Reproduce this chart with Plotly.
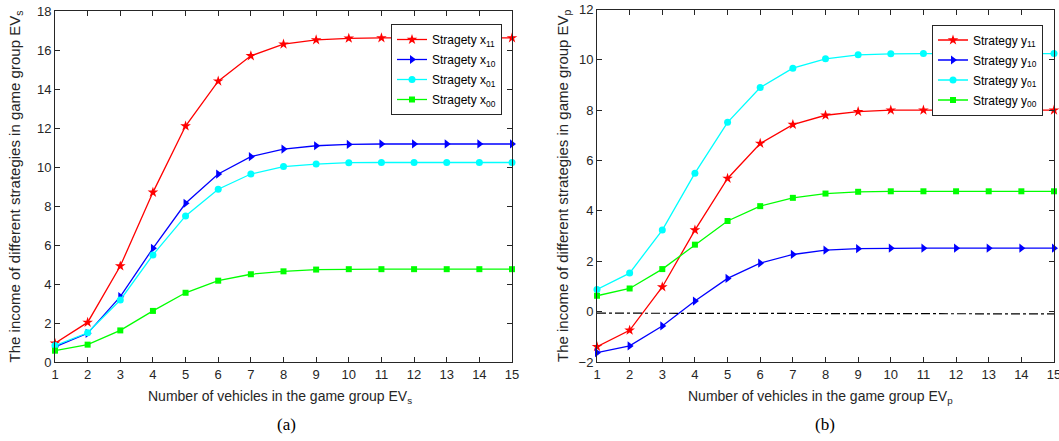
import plotly.graph_objects as go

vehicles = list(range(1, 16))

# Panel (a)
x11 = [0.96, 2.03, 4.92, 8.70, 12.10, 14.40, 15.70, 16.30, 16.52, 16.60, 16.62, 16.62, 16.62, 16.62, 16.62]
x10 = [0.78, 1.47, 3.35, 5.83, 8.14, 9.64, 10.53, 10.92, 11.09, 11.16, 11.18, 11.18, 11.18, 11.18, 11.18]
x01 = [0.84, 1.50, 3.18, 5.49, 7.49, 8.86, 9.64, 10.02, 10.15, 10.22, 10.23, 10.23, 10.23, 10.23, 10.23]
x00 = [0.58, 0.89, 1.62, 2.62, 3.55, 4.17, 4.50, 4.65, 4.74, 4.76, 4.76, 4.76, 4.76, 4.76, 4.76]

# Panel (b)
y11 = [-1.39, -0.74, 0.98, 3.24, 5.29, 6.68, 7.43, 7.80, 7.94, 8.00, 8.00, 8.00, 8.00, 8.00, 8.00]
y10 = [-1.63, -1.36, -0.57, 0.42, 1.32, 1.93, 2.27, 2.44, 2.50, 2.52, 2.52, 2.52, 2.52, 2.52, 2.52]
y01 = [0.88, 1.53, 3.24, 5.50, 7.52, 8.90, 9.67, 10.04, 10.20, 10.24, 10.25, 10.25, 10.25, 10.25, 10.25]
y00 = [0.63, 0.92, 1.69, 2.66, 3.60, 4.19, 4.52, 4.69, 4.76, 4.78, 4.78, 4.78, 4.78, 4.78, 4.78]

ref_x = [1, 15]
ref_y = [-0.06, -0.09]

colors = ["#ff0000", "#0000ff", "#00ffff", "#00ff00"]
symbols = ["star", "triangle-right", "circle", "square"]
sizes = [8, 8, 7, 6]

FW, FH = 1059, 441


def px(x):
    return x / FW


def py(y):
    return 1 - y / FH


fig = go.Figure()

names_a = ["Stragety x<sub>11</sub>", "Stragety x<sub>10</sub>", "Stragety x<sub>01</sub>", "Stragety x<sub>00</sub>"]
names_b = ["Strategy y<sub>11</sub>", "Strategy y<sub>10</sub>", "Strategy y<sub>01</sub>", "Strategy y<sub>00</sub>"]

for i, ys in enumerate([x11, x10, x01, x00]):
    fig.add_trace(go.Scatter(x=vehicles, y=ys, mode="lines+markers", name=names_a[i],
                             line=dict(color=colors[i], width=1.3),
                             marker=dict(symbol=symbols[i], size=sizes[i], color=colors[i]),
                             legendgroup="a%d" % i, cliponaxis=False,
                             xaxis="x", yaxis="y", legend="legend"))
for i, ys in enumerate([y11, y10, y01, y00]):
    fig.add_trace(go.Scatter(x=vehicles, y=ys, mode="lines+markers", name=names_b[i],
                             line=dict(color=colors[i], width=1.3),
                             marker=dict(symbol=symbols[i], size=sizes[i], color=colors[i]),
                             legendgroup="b%d" % i, cliponaxis=False,
                             xaxis="x2", yaxis="y2", legend="legend2"))
fig.add_trace(go.Scatter(x=ref_x, y=ref_y, mode="lines", showlegend=False,
                         line=dict(color="black", width=1.2, dash="dashdot"),
                         xaxis="x2", yaxis="y2"))

axis_common = dict(showline=True, mirror="allticks", linecolor="#262626", linewidth=1,
                   ticks="inside", ticklen=5, tickcolor="#262626", showgrid=False, zeroline=False,
                   automargin=False, ticklabeloverflow="allow",
                   tickfont=dict(family="Liberation Sans, Arial", size=13, color="#262626"))

title_font = dict(family="Liberation Sans, Arial", size=14, color="#262626")
label_font = dict(family="Liberation Serif, Times New Roman", size=17, color="black")

fig.update_layout(
    template="none",
    width=FW, height=FH,
    margin=dict(l=0, r=0, t=0, b=0, pad=0),
    plot_bgcolor="white", paper_bgcolor="white",
    font=dict(family="Liberation Sans, Arial", size=13, color="#262626"),
    xaxis=dict(domain=[px(55), px(512)], range=[1, 15], dtick=1, anchor="y", **axis_common),
    yaxis=dict(domain=[py(362), py(11)], range=[0, 18], dtick=2, anchor="x",
               title=dict(text="The income of different strategies in game group EV<sub>s</sub>", standoff=12,
                          font=dict(size=15)), **axis_common),
    xaxis2=dict(domain=[px(597), px(1054)], range=[1, 15], dtick=1, anchor="y2", **axis_common),
    yaxis2=dict(domain=[py(362), py(9.5)], range=[-2, 12], dtick=2, anchor="x2",
                title=dict(text="The income of different strategies in game group EV<sub>p</sub>", standoff=6,
                           font=dict(size=15)), **axis_common),
    legend=dict(x=px(391), y=py(24), xanchor="left", yanchor="top",
                bgcolor="white", bordercolor="#262626", borderwidth=1,
                font=dict(size=12, color="black"), tracegroupgap=1, itemwidth=30),
    legend2=dict(x=px(932), y=py(24.5), xanchor="left", yanchor="top",
                 bgcolor="white", bordercolor="#262626", borderwidth=1,
                 font=dict(size=12, color="black"), tracegroupgap=1, itemwidth=30),
    annotations=[
        dict(text="Number of vehicles in the game group EV<sub>s</sub>", x=px(280), y=py(397),
             xref="paper", yref="paper", showarrow=False, xanchor="center", yanchor="middle",
             font=title_font),
        dict(text="Number of vehicles in the game group EV<sub>p</sub>", x=px(820), y=py(397),
             xref="paper", yref="paper", showarrow=False, xanchor="center", yanchor="middle",
             font=title_font),
        dict(text="(a)", x=px(286), y=py(424), xref="paper", yref="paper", showarrow=False,
             xanchor="center", yanchor="middle", font=label_font),
        dict(text="(b)", x=px(825), y=py(424), xref="paper", yref="paper", showarrow=False,
             xanchor="center", yanchor="middle", font=label_font),
    ],
)

# remove the browser's default 8px page margin so the figure fills the window exactly
fig.write_html("out.html", config={"displayModeBar": False},
               post_script="document.body.style.margin='0';document.body.style.overflow='hidden';")
